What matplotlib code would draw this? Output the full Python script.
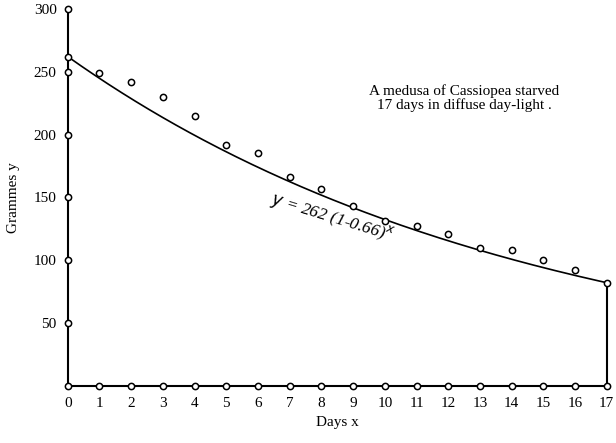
import numpy as np
import matplotlib
matplotlib.use("Agg")
import matplotlib.pyplot as plt

days = list(range(0, 18))
grammes = [262, 249, 242, 230, 215, 192, 185, 166, 157, 143, 131, 127, 121, 110, 108, 100, 92, 82]
y_ticks = [50, 100, 150, 200, 250, 300]
a0 = 262
rate = 0.066


def main():
    plt.rcParams['font.family'] = ['Liberation Serif', 'DejaVu Serif']
    fig = plt.figure(figsize=(6.16, 4.43), dpi=100)
    ax = fig.add_axes([0.110, 0.129, 0.875, 0.851])

    xs = np.linspace(0, 17, 200)
    ax.plot(xs, a0 * (1 - rate) ** xs, color='black', lw=1.2)

    # observed weights
    ax.plot(days[1:-1], grammes[1:-1], 'o', ms=4.5, mfc='white', mec='black', mew=1.1, clip_on=False)

    # axes drawn as lines with circles
    ax.plot([0, 0], [0, 300], color='black', lw=1.5, clip_on=False)
    ax.plot([0, 17], [0, 0], color='black', lw=1.5, clip_on=False)
    ax.plot([17, 17], [0, grammes[-1]], color='black', lw=1.5, clip_on=False)
    ax.plot([0] * len(y_ticks), y_ticks, 'o', ms=4.5, mfc='white', mec='black', mew=1.1, clip_on=False, zorder=5)
    ax.plot(days, [0] * len(days), 'o', ms=4.5, mfc='white', mec='black', mew=1.1, clip_on=False, zorder=5)
    ax.plot([0, 17], [grammes[0], grammes[-1]], 'o', ms=4.5, mfc='white', mec='black', mew=1.1, clip_on=False, zorder=5)

    ax.set_xlim(0, 17)
    ax.set_ylim(0, 300)
    for s in ax.spines.values():
        s.set_visible(False)
    ax.set_xticks(days)
    ax.set_yticks(y_ticks)
    ax.tick_params(length=0, labelsize=11, pad=8)
    ax.set_xlabel('Days x', fontsize=11, labelpad=4)
    ax.set_ylabel('Grammes y', fontsize=11, labelpad=10)

    ax.text(12.5, 229, 'A medusa of Cassiopea starved\n17 days in diffuse day-light .',
            ha='center', va='center', fontsize=11, linespacing=1.0)
    ax.text(8.35, 134, r'$y$ = 262 (1-0.66)$^{x}$', rotation=-17, fontsize=12.5,
            style='italic', ha='center', va='center')

    fig.savefig('out.png', dpi=100)


if __name__ == "__main__":
    main()
